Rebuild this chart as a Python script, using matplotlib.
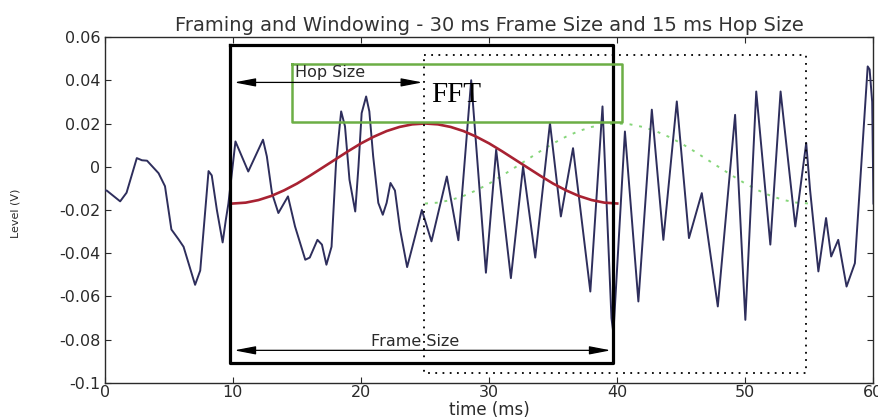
import matplotlib
matplotlib.use("Agg")
import matplotlib.pyplot as plt

plt.rcParams["font.family"] = "DejaVu Sans"
plt.rcParams["axes.unicode_minus"] = False

# speech segment, sampled at its turning points (time in ms, level in V)
wave_t = [0.0, 0.15, 1.2, 1.7, 2.5, 2.9, 3.3, 4.2, 4.7, 5.2, 5.75, 6.15,
          7.05, 7.45, 8.1, 8.35, 8.75, 9.2, 9.45, 9.65, 10.2, 11.2, 12.35,
          12.65, 13.05, 13.55, 14.3, 14.85, 15.65, 16.0, 16.6, 16.95, 17.3,
          17.7, 18.05, 18.45, 18.75, 19.1, 19.55, 19.8, 20.05, 20.4, 20.65,
          20.95, 21.35, 21.7, 22.0, 22.3, 22.65, 23.05, 23.6, 24.1, 24.75,
          25.5, 26.7, 27.6, 28.6, 29.75, 30.55, 31.7, 32.65, 33.6, 34.75,
          35.6, 36.55, 37.9, 38.85, 39.55, 39.7, 40.6, 41.65, 42.7, 43.6,
          44.65, 45.6, 46.6, 47.85, 49.2, 50.0, 50.85, 51.95, 52.75, 53.9,
          54.75, 55.05, 55.7, 56.3, 56.7, 57.25, 57.9, 58.55, 59.55, 59.7,
          59.9, 60.0]
wave_v = [-0.011, -0.011, -0.016, -0.012, 0.004, 0.003, 0.0028, -0.003,
          -0.009, -0.029, -0.0335, -0.037, -0.0546, -0.048, -0.002, -0.004,
          -0.020, -0.035, -0.0245, -0.017, 0.0117, -0.0022, 0.0125, 0.0048,
          -0.0122, -0.0214, -0.0137, -0.0276, -0.043, -0.042, -0.0338,
          -0.036, -0.0453, -0.037, 0.0017, 0.0256, 0.0187, -0.006, -0.0207,
          0.0, 0.0248, 0.0325, 0.0256, 0.0048, -0.0167, -0.0222, -0.0167,
          -0.0075, -0.011, -0.029, -0.0464, -0.035, -0.020, -0.0345,
          -0.0045, -0.034, 0.040, -0.049, 0.0079, -0.0515, 0.0001, -0.042,
          0.0202, -0.023, 0.0086, -0.0577, 0.0279, -0.070, -0.077, 0.0163,
          -0.0623, 0.0264, -0.0338, 0.0302, -0.033, -0.0122, -0.0646, 0.024,
          -0.0708, 0.0348, -0.036, 0.0348, -0.0276, 0.011, -0.0106, -0.0484,
          -0.0237, -0.0415, -0.0338, -0.0554, -0.0446, 0.0464, 0.045,
          0.030, -0.017]

# hamming window over one frame, as drawn (offset from frame start, level)
win_t = [0, 1, 2, 3, 4, 5, 6, 7, 8, 9, 10, 11, 12, 13, 14, 15,
         16, 17, 18, 19, 20, 21, 22, 23, 24, 25, 26, 27, 28, 29, 30]
win_v = [-0.0170, -0.0166, -0.0154, -0.0135, -0.0109, -0.0078, -0.0042,
         -0.0004, 0.0034, 0.0072, 0.0108, 0.0139, 0.0165, 0.0184, 0.0196,
         0.0200, 0.0196, 0.0184, 0.0165, 0.0139, 0.0108, 0.0072, 0.0034,
         -0.0004, -0.0042, -0.0078, -0.0109, -0.0135, -0.0154, -0.0166,
         -0.0170]

frame_start = 10
hop = 15

x_ticks = [0, 10, 20, 30, 40, 50, 60]
y_ticks = [-0.1, -0.08, -0.06, -0.04, -0.02, 0, 0.02, 0.04, 0.06]
y_labels = ["-0.1", "-0.08", "-0.06", "-0.04", "-0.02", "0", "0.02", "0.04", "0.06"]

WAVE = "#2e2e5c"
WIN_RED = "#a82232"
WIN_GREEN = "#86d67a"
BOX_GREEN = "#6cae45"
INK = "#2a2a2a"

fig = plt.figure(figsize=(8.79, 4.2), dpi=100, facecolor="white")
ax = fig.add_axes([0.1192, 0.0881, 0.8745, 0.8238])

ax.plot(wave_t, wave_v, color=WAVE, lw=1.4, zorder=3)

# window of the current frame and of the next one
ax.plot([frame_start + t for t in win_t], win_v, color=WIN_RED, lw=1.9, zorder=4)
ax.plot([frame_start + hop + t for t in win_t], win_v, color=WIN_GREEN,
        lw=1.4, ls=(0, (1.5, 3.5)), zorder=2)

# frame boxes
ax.plot([9.8, 39.7, 39.7, 9.8, 9.8], [0.0562, 0.0562, -0.0908, -0.0908, 0.0562],
        color="black", lw=2.3, zorder=5)
ax.plot([24.9, 54.75, 54.75, 24.9, 24.9], [0.0519, 0.0519, -0.0954, -0.0954, 0.0519],
        color="black", lw=1.3, ls=(0, (1, 3)), zorder=5)

# fft box
ax.plot([14.6, 40.4, 40.4, 14.6, 14.6], [0.0473, 0.0473, 0.0208, 0.0208, 0.0473],
        color=BOX_GREEN, lw=1.8, zorder=6)
ax.text(25.5, 0.0331, "FFT", family="Liberation Serif", fontsize=21,
        va="center", ha="left", zorder=7)

arrow = dict(arrowstyle="<|-|>,head_length=1.3,head_width=0.25",
             color="black", lw=0.9, shrinkA=0, shrinkB=0)
ax.annotate("", xy=(10.1, 0.039), xytext=(24.8, 0.039), arrowprops=arrow, zorder=6)
ax.text(17.6, 0.0402, "Hop Size", fontsize=11.5, color=INK,
        ha="center", va="bottom", zorder=7)
ax.annotate("", xy=(10.1, -0.0849), xytext=(39.5, -0.0849), arrowprops=arrow, zorder=6)
ax.text(24.2, -0.0843, "Frame Size", fontsize=11.5, color=INK,
        ha="center", va="bottom", zorder=7)

ax.set_xlim(0, 60)
ax.set_ylim(-0.1, 0.06)
ax.set_xticks(x_ticks)
ax.set_yticks(y_ticks)
ax.set_yticklabels(y_labels)
ax.tick_params(direction="in", length=4, width=0.8, top=True, right=True,
               labelsize=11.5, colors=INK, pad=3)
ax.tick_params(axis="x", pad=1.5)
for s in ax.spines.values():
    s.set_linewidth(1.0)
    s.set_color(INK)

ax.set_title("Framing and Windowing - 30 ms Frame Size and 15 ms Hop Size",
             fontsize=14, color="#333333", pad=4)
ax.set_xlabel("time (ms)", fontsize=12, color=INK, labelpad=0.5)
ax.set_ylabel("Level (V)", fontsize=8, color=INK)
ax.yaxis.set_label_coords(-0.11, 0.49)

fig.savefig("out.png", dpi=100, facecolor="white")
